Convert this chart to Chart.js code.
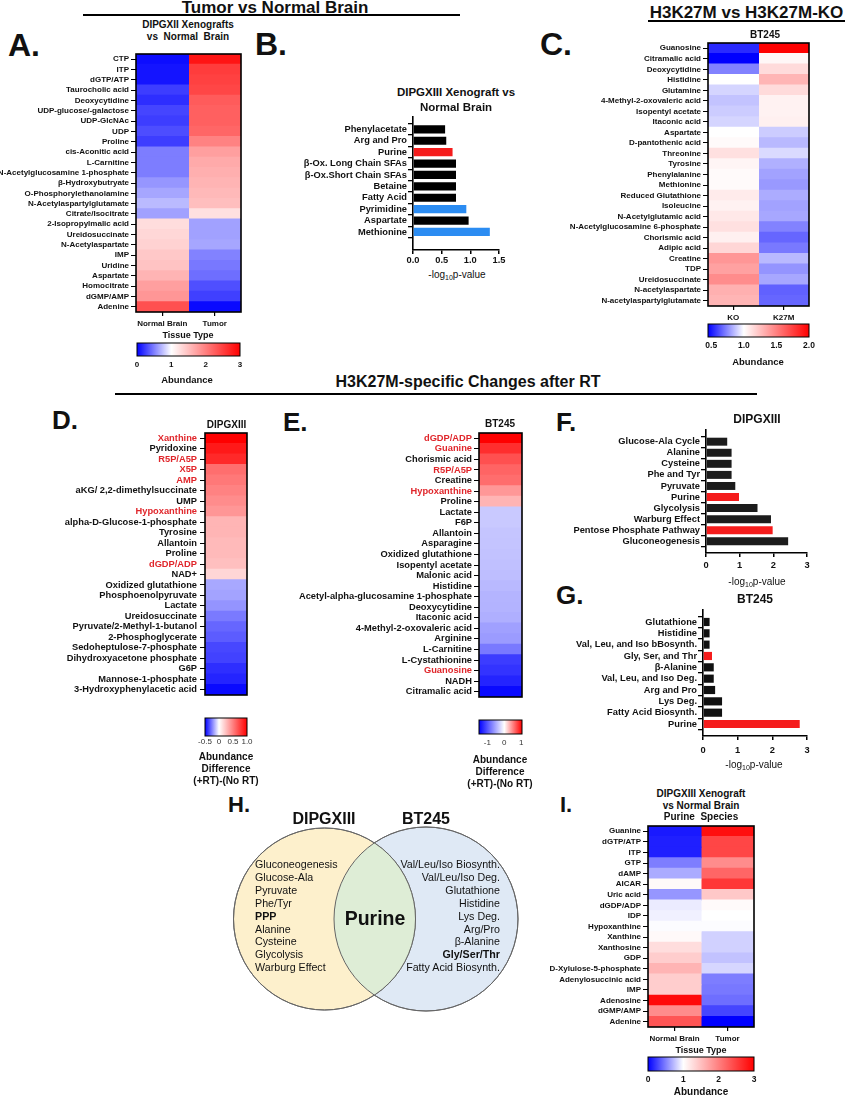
<!DOCTYPE html>
<html><head><meta charset="utf-8">
<script src="https://cdn.jsdelivr.net/npm/chart.js@4.4.0/dist/chart.umd.min.js"></script>
<style>
html,body{margin:0;padding:0;background:#fff;}
#page{position:relative;width:850px;height:1096px;overflow:hidden;background:#fff;font-family:"Liberation Sans",Arial,Helvetica,sans-serif;color:#111;}
#page canvas{position:absolute;}
.t{position:absolute;white-space:pre;line-height:1;}
.t sub{font-size:0.7em;vertical-align:-0.3em;line-height:0;}
.hl{position:absolute;background:#000;height:2px;}
</style></head><body><div id="page"></div>
<script>
// ---------------- DATA ----------------
// Panel A
const aRows = ["CTP","ITP","dGTP/ATP","Taurocholic acid","Deoxycytidine","UDP-glucose/-galactose","UDP-GlcNAc","UDP","Proline","cis-Aconitic acid","L-Carnitine","N-Acetylglucosamine 1-phosphate","β-Hydroxybutryate","O-Phosphorylethanolamine","N-Acetylaspartylglutamate","Citrate/Isocitrate","2-Isopropylmalic acid","Ureidosuccinate","N-Acetylaspartate","IMP","Uridine","Aspartate","Homocitrate","dGMP/AMP","Adenine"];
const aColumns = ["Normal Brain","Tumor"];
const aNormal = [0.05,0.08,0.08,0.24,0.18,0.27,0.24,0.3,0.24,0.49,0.49,0.49,0.59,0.65,0.73,0.63,1.27,1.31,1.35,1.43,1.47,1.59,1.75,1.82,2.37];
const aTumor  = [2.84,2.53,2.49,2.45,2.29,2.25,2.25,2.2,1.98,1.75,1.67,1.63,1.59,1.55,1.51,1.24,0.63,0.63,0.65,0.51,0.47,0.43,0.31,0.25,0.04];
const aBarTicks = [0,1,2,3];
const aBarLabels = ["0","1","2","3"];

// Panel B
const bLabels = ["Phenylacetate","Arg and Pro","Purine","β-Ox. Long Chain SFAs","β-Ox.Short Chain SFAs","Betaine","Fatty Acid","Pyrimidine","Aspartate","Methionine"];
const bValues = [0.56,0.58,0.69,0.75,0.75,0.75,0.75,0.93,0.97,1.34];
const bRed = ["Purine"];
const bBlue = ["Pyrimidine","Methionine"];
const bAxisTicks = [0,0.5,1.0,1.5];

// Panel C
const cRows = ["Guanosine","Citramalic acid","Deoxycytidine","Histidine","Glutamine","4-Methyl-2-oxovaleric acid","Isopentyl acetate","Itaconic acid","Aspartate","D-pantothenic acid","Threonine","Tyrosine","Phenylalanine","Methionine","Reduced Glutathione","Isoleucine","N-Acetylglutamic acid","N-Acetylglucosamine 6-phosphate","Chorismic acid","Adipic acid","Creatine","TDP","Ureidosuccinate","N-acetylaspartate","N-acetylaspartylglutamate"];
const cColumns = ["KO","K27M"];
const cKO   = [0.54,0.45,0.73,1.0,0.91,0.87,0.89,0.91,1.0,1.02,1.12,1.04,1.02,1.02,1.08,1.05,1.09,1.12,1.06,1.16,1.41,1.37,1.45,1.31,1.29];
const cK27M = [2.0,1.03,1.14,1.29,1.14,1.05,1.05,1.06,0.89,0.85,0.92,0.83,0.80,0.78,0.82,0.80,0.81,0.73,0.67,0.71,0.85,0.77,0.81,0.66,0.67];
const cBarTicks = [0.5,1.0,1.5,2.0];
const cBarLabels = ["0.5","1.0","1.5","2.0"];

// Panel D
const dRows = ["Xanthine","Pyridoxine","R5P/A5P","X5P","AMP","aKG/ 2,2-dimethylsuccinate","UMP","Hypoxanthine","alpha-D-Glucose-1-phosphate","Tyrosine","Allantoin","Proline","dGDP/ADP","NAD+","Oxidized glutathione","Phosphoenolpyruvate","Lactate","Ureidosuccinate","Pyruvate/2-Methyl-1-butanol","2-Phosphoglycerate","Sedoheptulose-7-phosphate","Dihydroxyacetone phosphate","G6P","Mannose-1-phosphate","3-Hydroxyphenylacetic acid"];
const dValues = [1.0,0.9,0.84,0.57,0.53,0.49,0.45,0.41,0.29,0.29,0.27,0.27,0.25,0.16,-0.17,-0.18,-0.21,-0.26,-0.3,-0.32,-0.36,-0.37,-0.41,-0.43,-0.48];
const dRed = ["Xanthine","R5P/A5P","X5P","AMP","Hypoxanthine","dGDP/ADP"];
const dBarTicks = [-0.5,0,0.5,1.0];
const dBarLabels = ["-0.5","0","0.5","1.0"];

// Panel E
const eRows = ["dGDP/ADP","Guanine","Chorismic acid","R5P/A5P","Creatine","Hypoxanthine","Proline","Lactate","F6P","Allantoin","Asparagine","Oxidized glutathione","Isopentyl acetate","Malonic acid","Histidine","Acetyl-alpha-glucosamine 1-phosphate","Deoxycytidine","Itaconic acid","4-Methyl-2-oxovaleric acid","Arginine","L-Carnitine","L-Cystathionine","Guanosine","NADH","Citramalic acid"];
const eValues = [1.05,0.86,0.72,0.64,0.6,0.43,0.31,-0.32,-0.32,-0.34,-0.35,-0.36,-0.37,-0.38,-0.41,-0.44,-0.45,-0.47,-0.56,-0.59,-0.79,-1.15,-1.2,-1.29,-1.44];
const eRed = ["dGDP/ADP","Guanine","R5P/A5P","Hypoxanthine","Guanosine"];
const eBarTicks = [-1,0,1];
const eBarLabels = ["-1","0","1"];

// Panel F
const fLabels = ["Glucose-Ala Cycle","Alanine","Cysteine","Phe and Tyr","Pyruvate","Purine","Glycolysis","Warburg Effect","Pentose Phosphate Pathway","Gluconeogenesis"];
const fValues = [0.63,0.76,0.76,0.76,0.87,0.98,1.53,1.93,1.98,2.44];
const fRed = ["Purine","Pentose Phosphate Pathway"];
const fAxisTicks = [0,1,2,3];

// Panel G
const gLabels = ["Glutathione","Histidine","Val, Leu, and Iso bBosynth.","Gly, Ser, and Thr","β-Alanine","Val, Leu, and Iso Deg.","Arg and Pro","Lys Deg.","Fatty Acid Biosynth.","Purine"];
const gValues = [0.19,0.19,0.19,0.26,0.31,0.31,0.35,0.55,0.55,2.79];
const gRed = ["Gly, Ser, and Thr","Purine"];
const gAxisTicks = [0,1,2,3];

// Panel H (Venn)
const vennSets = ["DIPGXIII","BT245"];
const vennLeft = ["Gluconeogenesis","Glucose-Ala","Pyruvate","Phe/Tyr","PPP","Alanine","Cysteine","Glycolysis","Warburg Effect"];
const vennRight = ["Val/Leu/Iso Biosynth.","Val/Leu/Iso Deg.","Glutathione","Histidine","Lys Deg.","Arg/Pro","β-Alanine","Gly/Ser/Thr","Fatty Acid Biosynth."];
const vennShared = ["Purine"];
const vennBold = ["PPP","Gly/Ser/Thr"];

// Panel I
const iRows = ["Guanine","dGTP/ATP","ITP","GTP","dAMP","AICAR","Uric acid","dGDP/ADP","IDP","Hypoxanthine","Xanthine","Xanthosine","GDP","D-Xylulose-5-phosphate","Adenylosuccinic acid","IMP","Adenosine","dGMP/AMP","Adenine"];
const iColumns = ["Normal Brain","Tumor"];
const iNormal = [0.1,0.12,0.12,0.49,0.67,1.05,0.59,0.92,0.94,0.99,1.05,1.27,1.39,1.59,1.39,1.39,2.92,1.9,2.33];
const iTumor  = [2.88,2.45,2.45,1.9,2.2,2.57,1.43,1.04,1.0,0.99,0.82,0.82,0.76,0.84,0.49,0.47,0.43,0.27,0.0];
const iBarTicks = [0,1,2,3];
const iBarLabels = ["0","1","2","3"];

// ---------------- HELPERS ----------------
const FF = '"Liberation Sans", Arial, Helvetica, sans-serif';
Chart.defaults.font.family = FF;
Chart.defaults.color = '#111';
const RED = '#e0262b';
const page = document.getElementById('page');

function mkCanvas(x,y,w,h){
  const c=document.createElement('canvas');
  c.width=w; c.height=h;
  c.style.left=x+'px'; c.style.top=y+'px'; c.style.width=w+'px'; c.style.height=h+'px';
  page.appendChild(c); return c;
}
function T(txt,x,y,o={}){
  const d=document.createElement('div'); d.className='t';
  d.style.fontSize=(o.size||10)+'px';
  d.style.fontWeight=o.weight||'bold';
  d.style.color=o.color||'#111';
  d.style.left=x+'px'; d.style.top=y+'px';
  const al=o.align||'center';
  const tx= al==='center'?'-50%':(al==='right'?'-100%':'0');
  d.style.transform=`translate(${tx},-50%)`;
  if(o.html) d.innerHTML=txt; else d.textContent=txt;
  page.appendChild(d); return d;
}
function HL(x1,x2,y){ const d=document.createElement('div'); d.className='hl'; d.style.left=x1+'px'; d.style.width=(x2-x1)+'px'; d.style.top=(y-1)+'px'; page.appendChild(d); }

function cmap(v,lo,mid,hi){
  let r,g,b;
  if(v<=mid){ const t=Math.min(1,(mid-v)/(mid-lo)); r=g=Math.round(255*(1-t)); b=255; }
  else { const t=Math.min(1,(v-mid)/(hi-mid)); r=255; g=b=Math.round(255*(1-t)); }
  return `rgb(${r},${g},${b})`;
}
const framePlugin={id:'frame',afterDatasetsDraw(chart,args,opts){
  if(!opts||!opts.width) return;
  const a=chart.chartArea, ctx=chart.ctx;
  ctx.save(); ctx.strokeStyle='#000'; ctx.lineWidth=opts.width;
  ctx.strokeRect(a.left,a.top,a.right-a.left,a.bottom-a.top); ctx.restore();
}};
function baseOpts(pad,frameW){
  return {responsive:false,maintainAspectRatio:false,animation:false,events:[],devicePixelRatio:1,
    layout:{padding:pad,autoPadding:false},
    plugins:{legend:{display:false},tooltip:{enabled:false},frame:{width:frameW||0}}};
}

function heatmap(cfg){
  const {x,y,w,h,rows,cols,colNames,scale,labelW,axisH,pad,font,redRows,tickPad,showX}=cfg;
  const c=mkCanvas(x,y,w,h);
  const o=baseOpts(pad,1.6);
  o.indexAxis='y';
  o.scales={
    y:{type:'category',offset:true,
      grid:{display:true,drawOnChartArea:false,drawTicks:true,tickLength:5,offset:false,color:'#000',lineWidth:1},
      border:{display:false},
      ticks:{autoSkip:false,padding:tickPad||2,font:{family:FF,size:font,weight:'bold'},
        color:(ctx)=> (redRows&&redRows.includes(rows[ctx.index]))?RED:'#111'},
      afterFit:s=>{s.width=labelW;}},
    x:{type:'linear',min:0,max:cols.length,display:!!showX,
      grid:{display:true,drawOnChartArea:false,drawTicks:true,tickLength:4,color:'#000',lineWidth:1.2},
      border:{display:false},
      afterBuildTicks:s=>{s.ticks=(colNames||[]).map((n,i)=>({value:i+0.5}));},
      ticks:{autoSkip:false,minRotation:0,maxRotation:0,padding:3,font:{family:FF,size:8,weight:'bold'},color:'#111',
        callback:(v,i)=>colNames[i]},
      afterFit:s=>{s.height=axisH||18;}}
  };
  return new Chart(c,{type:'bar',
    data:{labels:rows,datasets:cols.map((vals,j)=>({
      data:vals.map(()=>[j,j+1]),
      backgroundColor:vals.map(v=>cmap(v,scale[0],scale[1],scale[2])),
      borderWidth:0,grouped:false,barPercentage:1,categoryPercentage:1,inflateAmount:0.5}))},
    options:o,plugins:[framePlugin]});
}

function colorbar(cfg){
  const {x,y,w,h,lo,mid,hi,ticks,labels,pad,axisH,font,tickPad}=cfg;
  const c=mkCanvas(x,y,w,h);
  const o=baseOpts(pad,1);
  o.indexAxis='y';
  o.scales={
    y:{display:false},
    x:{type:'linear',min:lo,max:hi,grid:{display:false,drawTicks:false,tickLength:0},border:{display:false},
      afterBuildTicks:s=>{s.ticks=ticks.map(v=>({value:v}));},
      ticks:{autoSkip:false,minRotation:0,maxRotation:0,padding:(tickPad===undefined?4:tickPad),font:font,color:cfg.color||'#111',
        callback:(v,i)=>labels[i]},
      afterFit:s=>{s.height=axisH;}}
  };
  return new Chart(c,{type:'bar',
    data:{labels:[''],datasets:[{data:[[lo,hi]],borderWidth:0,barPercentage:1,categoryPercentage:1,inflateAmount:0,
      backgroundColor:(ctx)=>{
        const ch=ctx.chart,a=ch.chartArea; if(!a) return '#fff';
        const xs=ch.scales.x;
        const f=v=>Math.max(0,Math.min(1,(xs.getPixelForValue(v)-a.left)/(a.right-a.left)));
        const g=ch.ctx.createLinearGradient(a.left,0,a.right,0);
        g.addColorStop(f(lo),'rgb(0,0,255)'); g.addColorStop(f(mid),'#ffffff'); g.addColorStop(f(hi),'rgb(255,0,0)');
        return g;
      }}]},
    options:o,plugins:[framePlugin]});
}

function barChart(cfg){
  const {x,y,w,h,labels,values,red,blue,black,xMax,xTicks,fmt,labelW,pad,yMax,tickPad}=cfg;
  const c=mkCanvas(x,y,w,h);
  const o=baseOpts(pad,0);
  o.indexAxis='y';
  const F={family:FF,size:9.3,weight:'bold'};
  o.scales={
    y:{type:'linear',reverse:true,min:-0.5,max:yMax,
      afterBuildTicks:s=>{s.ticks=labels.map((_,i)=>({value:i}));},
      ticks:{autoSkip:false,padding:1,font:F,color:'#111',callback:v=>labels[v]},
      grid:{display:true,drawOnChartArea:false,drawTicks:true,tickLength:5,color:'#000',lineWidth:1.3},
      border:{display:true,color:'#000',width:1.6},
      afterFit:s=>{s.width=labelW;}},
    x:{type:'linear',min:0,max:xMax,
      afterBuildTicks:s=>{s.ticks=xTicks.map(v=>({value:v}));},
      ticks:{autoSkip:false,minRotation:0,maxRotation:0,padding:tickPad,font:F,color:'#111',callback:v=>fmt(v)},
      grid:{display:true,drawOnChartArea:false,drawTicks:true,tickLength:4,color:'#000',lineWidth:1.5},
      border:{display:true,color:'#000',width:1.6},
      afterFit:s=>{s.height=18;}}
  };
  return new Chart(c,{type:'bar',
    data:{datasets:[{data:values.map((v,i)=>({x:v,y:i})),
      backgroundColor:labels.map(l=>red.includes(l)?'#f51c1c':(blue&&blue.includes(l)?'#2b8cf2':(black||'#000'))),
      borderWidth:0,barPercentage:0.72,categoryPercentage:1}]},
    options:o});
}

// ---------------- HEADERS ----------------
T('Tumor vs Normal Brain',275,7,{size:17});
HL(83,460,15);
T('H3K27M vs H3K27M-KO',746.5,11.5,{size:17});
HL(648,845,21);
T('H3K27M-specific Changes after RT',468,382,{size:16});
HL(115,757,394);

// letters
T('A.',8,45,{size:32,align:'left'});
T('B.',255,44,{size:32,align:'left'});
T('C.',540,44,{size:32,align:'left'});
T('D.',52,420,{size:26,align:'left'});
T('E.',283,422,{size:26,align:'left'});
T('F.',556,422,{size:26,align:'left'});
T('G.',556,595,{size:26,align:'left'});
T('H.',228,805,{size:22,align:'left'});
T('I.',560,805,{size:22,align:'left'});

// ---------------- PANEL A ----------------
heatmap({x:0,y:44,w:245,h:286,rows:aRows,cols:[aNormal,aTumor],colNames:aColumns,scale:[0,1,3],labelW:136,axisH:18,pad:{top:10,right:4,left:0,bottom:0},font:8,showX:true});
colorbar({x:125,y:341,w:127,h:34,lo:0,mid:1,hi:3,ticks:aBarTicks,labels:aBarLabels,pad:{left:12,right:12,top:2,bottom:0},axisH:19,font:{family:FF,size:8,weight:'bold'}});
T('DIPGXII Xenografts',188,25,{size:10});
T('vs  Normal  Brain',188,37,{size:10});
T('Tissue Type',188,335,{size:9});
T('Abundance',187,380,{size:9.5});

// ---------------- PANEL B ----------------
barChart({x:290,y:109,w:220,h:159,labels:bLabels,values:bValues,red:bRed,blue:bBlue,xMax:1.5,xTicks:bAxisTicks,fmt:v=>v.toFixed(1),labelW:123,pad:{top:8,right:11,left:0,bottom:0},yMax:10.0,tickPad:1});
T('DIPGXIII Xenograft vs',456,93,{size:11.5});
T('Normal Brain',456,108,{size:11.5});
T('-log<sub>10</sub>p-value',457,275,{size:10,weight:'normal',html:true});

// ---------------- PANEL C ----------------
heatmap({x:568,y:33,w:245,h:291,rows:cRows,cols:[cKO,cK27M],colNames:cColumns,scale:[0.45,1.0,2.0],labelW:140,axisH:18,pad:{top:10,right:4,left:0,bottom:0},font:8,showX:true});
colorbar({x:696,y:322,w:125,h:35,lo:0.45,mid:1.0,hi:2.0,ticks:cBarTicks,labels:cBarLabels,pad:{left:12,right:12,top:2,bottom:0},axisH:20,font:{family:FF,size:8.5,weight:'bold'}});
T('BT245',765,35,{size:10});
T('Abundance',758,362,{size:9.5});

// ---------------- PANEL D ----------------
heatmap({x:60,y:423,w:190,h:300,rows:dRows,cols:[dValues],scale:[-0.5,0,1.0],labelW:145,pad:{top:10,right:3,left:0,bottom:10},font:9.3,redRows:dRed,tickPad:3,showX:false});
colorbar({x:190,y:716,w:72,h:35,lo:-0.5,mid:0,hi:1.0,ticks:dBarTicks,labels:dBarLabels,pad:{left:15,right:15,top:2,bottom:0},axisH:15,tickPad:1,font:{family:FF,size:8,weight:'normal'},color:'#333'});
T('DIPGXIII',226.5,425,{size:10});
T('Abundance',226,757,{size:10});
T('Difference',226,769,{size:10});
T('(+RT)-(No RT)',226,781,{size:10});

// ---------------- PANEL E ----------------
heatmap({x:290,y:423,w:236,h:302,rows:eRows,cols:[eValues],scale:[-1.5,0,1.05],labelW:189,pad:{top:10,right:4,left:0,bottom:10},font:9.3,redRows:eRed,tickPad:2,showX:false});
colorbar({x:464,y:718,w:73,h:33,lo:-1.5,mid:0,hi:1.05,ticks:eBarTicks,labels:eBarLabels,pad:{left:15,right:15,top:2,bottom:0},axisH:17,tickPad:4,font:{family:FF,size:8,weight:'normal'},color:'#333'});
T('BT245',500,424,{size:10});
T('Abundance',500,760,{size:10});
T('Difference',500,772,{size:10});
T('(+RT)-(No RT)',500,784,{size:10});

// ---------------- PANEL F ----------------
barChart({x:560,y:422,w:259,h:149,labels:fLabels,values:fValues,red:fRed,black:'#1c1c1c',xMax:3,xTicks:fAxisTicks,fmt:v=>String(v),labelW:146,pad:{top:8,right:12,left:0,bottom:0},yMax:9.5,tickPad:3});
T('DIPGXIII',757,419,{size:12});
T('-log<sub>10</sub>p-value',757,582,{size:10,weight:'normal',html:true});

// ---------------- PANEL G ----------------
barChart({x:560,y:602,w:259,h:152,labels:gLabels,values:gValues,red:gRed,black:'#111',xMax:3,xTicks:gAxisTicks,fmt:v=>String(v),labelW:143,pad:{top:8,right:12,left:0,bottom:0},yMax:9.5,tickPad:5});
T('BT245',755,599,{size:12});
T('-log<sub>10</sub>p-value',754,765,{size:10,weight:'normal',html:true});

// ---------------- PANEL H (Venn) ----------------
const vennOverlap={id:'vennOverlap',afterDatasetsDraw(chart){
  const ctx=chart.ctx;
  const a=chart.getDatasetMeta(0).data[0], b=chart.getDatasetMeta(1).data[0];
  const ra=a.options.radius, rb=b.options.radius;
  ctx.save();
  ctx.beginPath(); ctx.arc(a.x,a.y,ra,0,Math.PI*2); ctx.clip();
  ctx.beginPath(); ctx.arc(b.x,b.y,rb,0,Math.PI*2); ctx.fillStyle='#deedd6'; ctx.fill();
  ctx.restore();
  ctx.save(); ctx.strokeStyle='#666'; ctx.lineWidth=1;
  [[a,ra],[b,rb]].forEach(([p,r])=>{ctx.beginPath(); ctx.arc(p.x,p.y,r,0,Math.PI*2); ctx.stroke();});
  ctx.restore();
}};
(function(){
  const c=mkCanvas(200,820,330,200);
  const o=baseOpts(0,0);
  o.clip=false;
  o.scales={x:{type:'linear',min:0,max:330,display:false},y:{type:'linear',min:0,max:200,reverse:true,display:false}};
  new Chart(c,{type:'bubble',
    data:{datasets:[
      {label:vennSets[0],data:[{x:124.5,y:99,r:91}],backgroundColor:'#fdf0cc',borderColor:'#666',borderWidth:1},
      {label:vennSets[1],data:[{x:226,y:99,r:92}],backgroundColor:'#dfe9f5',borderColor:'#666',borderWidth:1}
    ]},
    options:o,plugins:[vennOverlap]});
})();
T(vennSets[0],324,819,{size:16});
T(vennSets[1],426,819,{size:16});
vennLeft.forEach((s,i)=>T(s,255,864.3+i*12.85,{size:10.7,weight:vennBold.includes(s)?'bold':'normal',align:'left'}));
vennRight.forEach((s,i)=>T(s,500,864.3+i*12.85,{size:10.7,weight:vennBold.includes(s)?'bold':'normal',align:'right'}));
T(vennShared[0],375,919,{size:19.5});

// ---------------- PANEL I ----------------
heatmap({x:540,y:816,w:218,h:229,rows:iRows,cols:[iNormal,iTumor],colNames:iColumns,scale:[0,1,3],labelW:108,axisH:18,pad:{top:10,right:4,left:0,bottom:0},font:8,showX:true});
colorbar({x:636,y:1055,w:130,h:35,lo:0,mid:1,hi:3,ticks:iBarTicks,labels:iBarLabels,pad:{left:12,right:12,top:2,bottom:0},axisH:19,font:{family:FF,size:8.5,weight:'bold'}});
T('DIPGXIII Xenograft',701,794,{size:10});
T('vs Normal Brain',701,806,{size:10});
T('Purine  Species',701,817,{size:10});
T('Tissue Type',701,1050,{size:9});
T('Abundance',701,1092,{size:10});
</script></body></html>
